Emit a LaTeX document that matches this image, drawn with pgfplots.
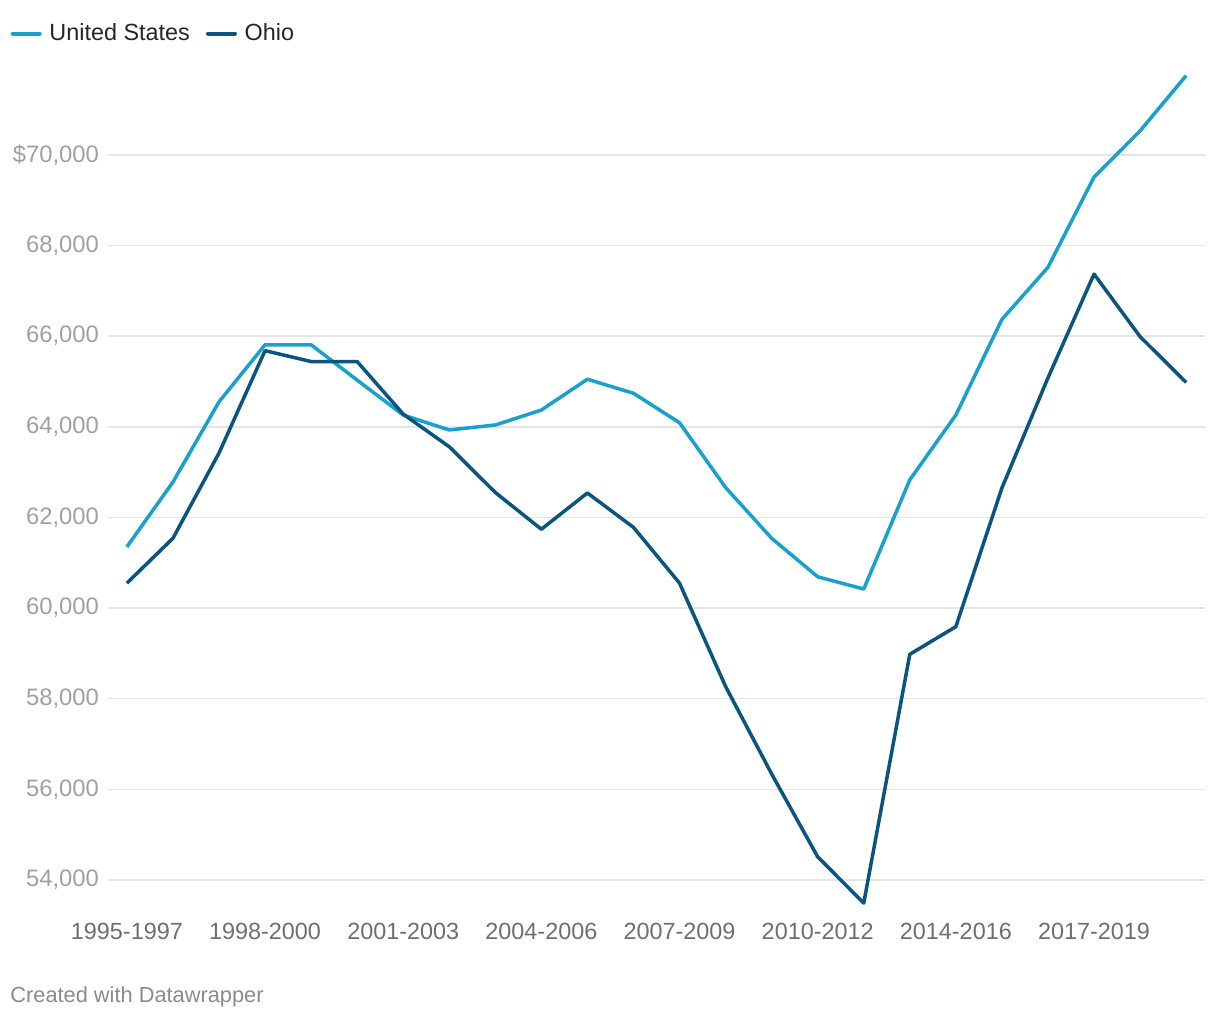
\documentclass[border=0pt]{standalone}
\usepackage{fontspec}
\setmainfont{Liberation Sans}
\usepackage{pgfplots}
\pgfplotsset{compat=1.18}
\definecolor{usblue}{HTML}{18A1CD}
\definecolor{ohblue}{HTML}{09557F}
\definecolor{gridc}{HTML}{E5E5E5}
\definecolor{ylab}{HTML}{A0A0A0}
\definecolor{xlab}{HTML}{6E6E6E}
\definecolor{credit}{HTML}{8A8A8A}

\pgfplotstableread{
idx us    oh
0   61350 60550
1   62780 61540
2   64550 63420
3   65810 65680
4   65810 65440
5   65030 65440
6   64260 64280
7   63930 63560
8   64040 62550
9   64370 61740
10  65050 62540
11  64740 61780
12  64090 60550
13  62660 58270
14  61540 56340
15  60690 54510
16  60420 53490
17  62830 58980
18  64260 59590
19  66370 62650
20  67520 65080
21  69510 67370
22  70530 65990
23  71750 64980
}\income

\begin{document}
\begin{tikzpicture}
\path (0,0) rectangle (610pt,510pt);
\begin{axis}[
  at={(54pt,54.15pt)}, anchor=south west,
  scale only axis, width=548.5pt, height=423.7pt,
  xmin=-0.41, xmax=23.41, ymin=53300, ymax=72000,
  scaled y ticks=false,
  axis line style={draw=none},
  major tick length=0pt,
  ymajorgrids, grid style={gridc, line width=0.75pt},
  xtick={0,3,6,9,12,15,18,21},
  xticklabels={1995-1997,1998-2000,2001-2003,2004-2006,2007-2009,2010-2012,2014-2016,2017-2019},
  ytick={54000,56000,58000,60000,62000,64000,66000,68000,70000},
  yticklabels={54{,}000,56{,}000,58{,}000,60{,}000,62{,}000,64{,}000,66{,}000,68{,}000,\$70{,}000},
  xticklabel style={font=\fontsize{11.7}{14}\selectfont, text=xlab, yshift=-2pt},
  yticklabel style={font=\fontsize{11.9}{14}\selectfont, text=ylab, xshift=-1pt},
  legend columns=2,
  legend style={draw=none, fill=none, at={(-0.0945,1.058)}, anchor=north west,
    font=\fontsize{11.7}{14}\selectfont, text=black!85,
    /tikz/every even column/.append style={column sep=6pt}},
  legend image code/.code={\draw[line width=2pt, line cap=round] (0pt,0pt) -- (13.5pt,0pt); \path (15.5pt,0pt);},
]
\addplot[usblue, line width=1.75pt, line join=round] table[x=idx, y=us] {\income};
\addlegendentry{United States}
\addplot[ohblue, line width=1.75pt, line join=round] table[x=idx, y=oh] {\income};
\addlegendentry{Ohio}
\end{axis}
\node[anchor=west, text=credit, font=\fontsize{10.9}{12}\selectfont, inner sep=0pt] at (5pt,11.5pt) {Created with Datawrapper};
\end{tikzpicture}
\end{document}
